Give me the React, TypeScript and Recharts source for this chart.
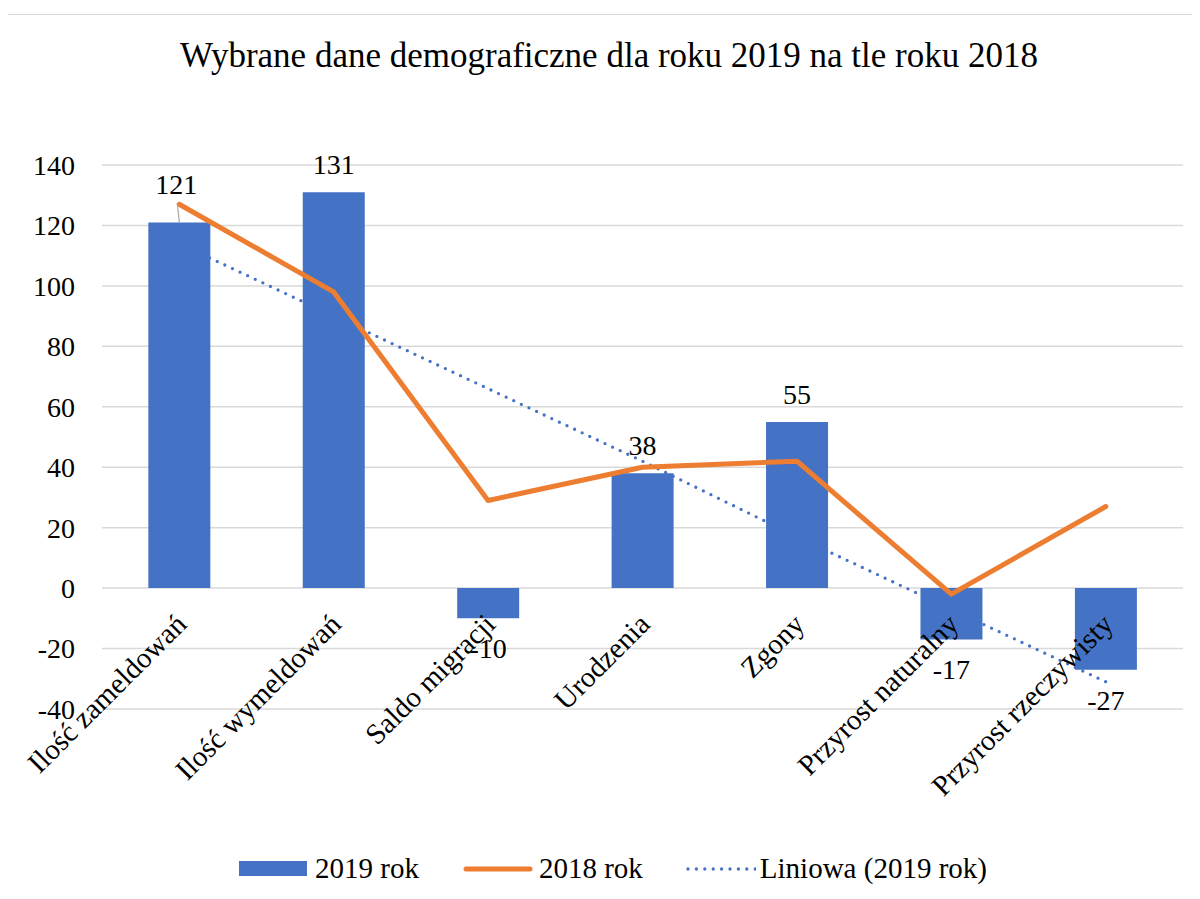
import React from 'react';
import { ComposedChart, Bar, Line, XAxis, YAxis, CartesianGrid, LabelList } from 'recharts';

const FONT = "'Liberation Serif', 'Times New Roman', serif";

const title = 'Wybrane dane demograficzne dla roku 2019 na tle roku 2018';
const categories = [
  'Ilość zameldowań',
  'Ilość wymeldowań',
  'Saldo migracji',
  'Urodzenia',
  'Zgony',
  'Przyrost naturalny',
  'Przyrost rzeczywisty',
];
const values2019 = [121, 131, -10, 38, 55, -17, -27];
const values2018 = [127, 98, 29, 40, 42, -2, 27];
const trend2019 = [114, 90, 66, 42, 17, -7, -31];
const yTicks = [-40, -20, 0, 20, 40, 60, 80, 100, 120, 140];
const seriesNames = ['2019 rok', '2018 rok', 'Liniowa (2019 rok)'];

const BLUE = '#4472C4';
const ORANGE = '#ED7D31';

function CategoryTick(props: any) {
  const { x, y, payload } = props;
  // labels sit just under the zero line, rotated like in Excel
  const px = x + 9;
  const py = y - 83;
  return (
    <text
      x={px}
      y={py}
      transform={`rotate(-45, ${px}, ${py})`}
      textAnchor="end"
      fontSize={29}
      fontFamily={FONT}
      fill="#000"
    >
      {payload.value}
    </text>
  );
}

function BarValueLabel(props: any) {
  const { x, y, width, height, value, index } = props;
  const top = Math.min(y, y + height);
  const bottom = Math.max(y, y + height);
  const cx = x + width / 2;
  const style = { fontSize: 28, fontFamily: FONT, fill: '#000' };
  if (value < 0) {
    return (
      <text x={cx} y={bottom + 40} textAnchor="middle" {...style}>
        {value}
      </text>
    );
  }
  const moved = index === 0;
  return (
    <g>
      {moved && <line x1={cx - 2} y1={top - 19} x2={cx} y2={top} stroke="#a6a6a6" strokeWidth={1.2} />}
      <text x={moved ? cx - 3 : cx} y={top - (moved ? 28 : 18)} textAnchor="middle" {...style}>
        {value}
      </text>
    </g>
  );
}

function LegendRow() {
  return (
    <div
      style={{
        position: 'absolute',
        left: 231,
        top: 839,
        display: 'flex',
        alignItems: 'center',
        height: 29,
        fontSize: 29,
        lineHeight: '29px',
        fontFamily: FONT,
        color: '#000',
        whiteSpace: 'nowrap',
      }}
    >
      <span style={{ display: 'inline-block', width: 68, height: 15, background: BLUE, marginRight: 8 }} />
      <span>{seriesNames[0]}</span>
      <svg width={70} height={8} style={{ marginLeft: 44, marginRight: 6 }}>
        <line x1={3} y1={4} x2={67} y2={4} stroke={ORANGE} strokeWidth={5} strokeLinecap="round" />
      </svg>
      <span>{seriesNames[1]}</span>
      <svg width={70} height={6} style={{ marginLeft: 43, marginRight: 4 }}>
        <line x1={2} y1={3} x2={70} y2={3} stroke={BLUE} strokeWidth={3.3} strokeDasharray="0 8.4" strokeLinecap="round" />
      </svg>
      <span>{seriesNames[2]}</span>
    </div>
  );
}

export default function App() {
  const data = categories.map((name, i) => ({
    name,
    v2019: values2019[i],
    v2018: values2018[i],
    trend: trend2019[i],
  }));

  return (
    <div
      style={{
        position: 'relative',
        marginLeft: -1,
        marginTop: 6,
        width: 1189,
        height: 892,
        border: '1px solid #d9d9d9',
        boxSizing: 'border-box',
        background: '#fff',
        fontFamily: FONT,
      }}
    >
      <div
        style={{
          position: 'absolute',
          left: 101,
          top: 23,
          width: 1000,
          textAlign: 'center',
          fontSize: 35,
          lineHeight: '35px',
          color: '#000',
        }}
      >
        {title}
      </div>
      <ComposedChart width={1186} height={880} data={data} margin={{ top: 150, right: 11, bottom: 166, left: 0 }} barCategoryGap="30%">
        <CartesianGrid vertical={false} stroke="#d9d9d9" strokeWidth={1.5} />
        <XAxis
          dataKey="name"
          axisLine={false}
          tickLine={false}
          tickSize={0}
          tickMargin={0}
          height={20}
          interval={0}
          tick={<CategoryTick />}
        />
        <YAxis
          width={94}
          domain={[-40, 140]}
          ticks={yTicks}
          interval={0}
          axisLine={false}
          tickLine={false}
          tickSize={0}
          tickMargin={27}
          tick={{ fontSize: 28, fill: '#000', fontFamily: FONT }}
        />
        <Line
          dataKey="trend"
          name={seriesNames[2]}
          type="linear"
          stroke={BLUE}
          strokeWidth={3.3}
          strokeDasharray="0 8.4"
          strokeLinecap="round"
          dot={false}
          activeDot={false}
          isAnimationActive={false}
          zIndex={200}
        />
        <Bar dataKey="v2019" name={seriesNames[0]} fill={BLUE} isAnimationActive={false}>
          <LabelList dataKey="v2019" content={<BarValueLabel />} />
        </Bar>
        <Line
          dataKey="v2018"
          name={seriesNames[1]}
          type="linear"
          stroke={ORANGE}
          strokeWidth={5}
          strokeLinejoin="round"
          strokeLinecap="round"
          dot={false}
          activeDot={false}
          isAnimationActive={false}
        />
      </ComposedChart>
      <LegendRow />
    </div>
  );
}
